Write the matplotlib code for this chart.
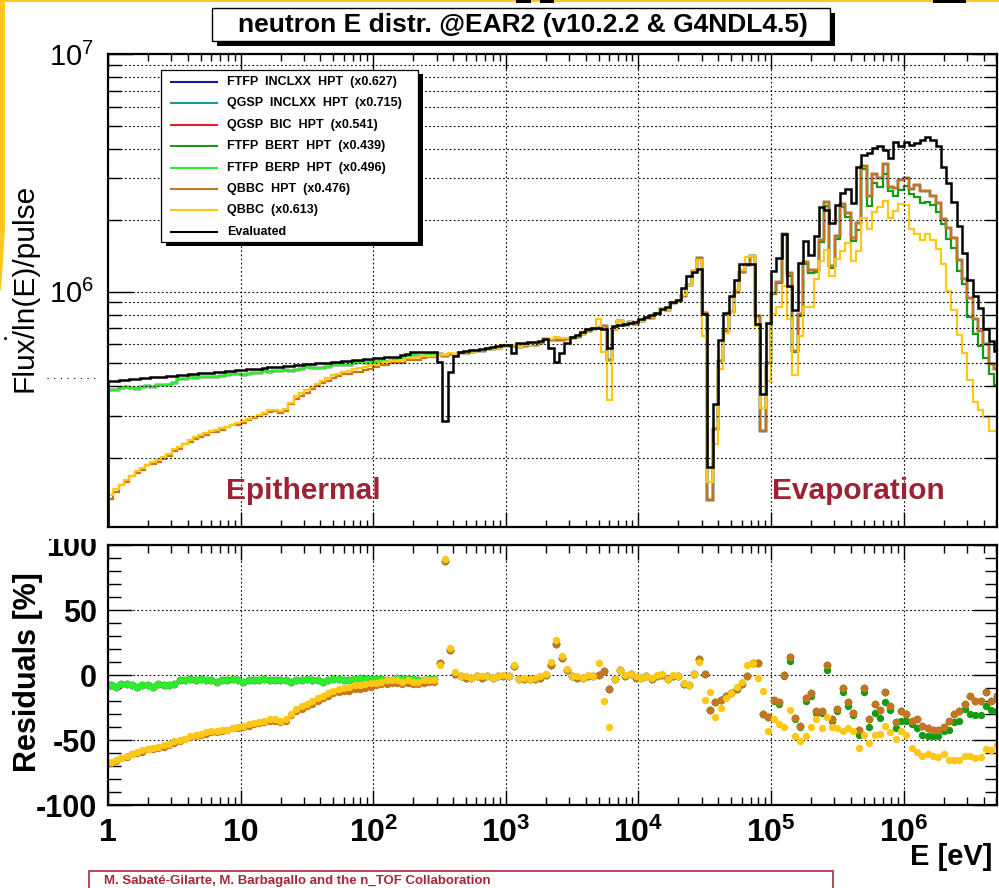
import numpy as np
import matplotlib
matplotlib.use("Agg")
import matplotlib.pyplot as plt
from matplotlib.patches import Rectangle, Polygon
from matplotlib.lines import Line2D
from matplotlib.ticker import LogLocator, FixedLocator, MultipleLocator, NullFormatter

plt.rcParams['font.family'] = ['Liberation Sans', 'DejaVu Sans']
plt.rcParams['mathtext.fontset'] = 'custom'
plt.rcParams['mathtext.rm'] = 'Liberation Sans'
plt.rcParams['mathtext.bf'] = 'Liberation Sans:bold'
plt.rcParams['mathtext.default'] = 'regular'

# 25 log bins per decade, 1 eV .. ~5 MeV
bins_per_decade = 25
edges = 10 ** (np.arange(169) / bins_per_decade)
centers = np.sqrt(edges[:-1] * edges[1:])

# evaluated flux, units of 1e5 /pulse
flux_eval = [
    4.20, 4.22, 4.24, 4.25, 4.27, 4.29, 4.31, 4.33, 4.35, 4.36,
    4.38, 4.40, 4.42, 4.44, 4.46, 4.48, 4.50, 4.52, 4.54, 4.56,
    4.58, 4.60, 4.62, 4.64, 4.66, 4.68, 4.70, 4.72, 4.74, 4.76,
    4.79, 4.81, 4.83, 4.85, 4.87, 4.89, 4.91, 4.94, 4.96, 4.98,
    5.00, 5.02, 5.05, 5.07, 5.09, 5.11, 5.14, 5.16, 5.18, 5.21,
    5.23, 5.25, 5.28, 5.30, 5.32,
    5.40, 5.48, 5.55, 5.56, 5.57, 5.57, 5.57,
    5.03, 2.85, 4.57, 5.34, 5.58, 5.62, 5.66, 5.70, 5.74, 5.78, 5.82, 5.87, 5.93,
    5.95, 5.49, 6.05, 6.08, 6.11, 6.15, 6.22, 6.29,
    5.76, 5.05, 5.53,
    6.09, 6.45, 6.59, 6.74, 6.92, 6.99, 7.00,
    6.97, 5.80,
    7.15, 7.20, 7.27, 7.34, 7.43,
    7.68, 7.80, 7.95, 8.10, 8.45, 8.60, 9.00, 9.20, 10.3, 11.6, 12.1, 12.4,
    8.05, 1.82, 3.35, 6.28, 8.14, 9.56, 11.2, 13.0, 13.0, 13.0, 7.27, 3.69, 7.39,
    12.2, 13.9, 17.5, 10.5, 8.40, 13.2, 16.3, 14.3, 17.1, 22.8, 22.1, 19.4, 23.2,
    26.0, 27.0, 23.6, 33.6, 37.6, 38.3, 40.2, 41.1, 39.5, 36.4, 42.8, 41.1, 42.8,
    41.5, 42.4, 43.5, 44.9, 43.5, 40.8, 33.6, 28.6, 23.9, 18.8, 14.5, 11.2, 9.56,
    8.54, 6.92, 6.18, 5.61,
]

# residuals (sim - eval)/eval in %, HPT physics lists
res_hpt = [
    -8, -9, -7, -7, -8, -9, -8, -8, -9, -7, -8, -8, -7,
    -4, -4, -3, -4, -3, -4, -4, -5, -4, -4, -3, -4,
    -5, -4, -4, -4, -3, -4, -4, -4, -4, -5, -4, -4, -3,
    -4, -4, -5, -4, -3, -3, -4, -4, -3, -2, -3, -3,
    -3, -3, -4, -4, -2, -3, -3, -3, -4, -4, -3, -3,
    9, 88, 19, 1,
    -1, -2, -2, -1, -2, -1, -2, -1, -1, -1,
    7,
    -3, -3, -3, -3, -2, 0,
    8, 24, 13, 4, -1, -2, -2, -1, -1, 0, 3, -11, -3, 4, -1, 1, -2,
    -2, -1, -3, -1, 0, -3, -1, -1, -7, -8, 1, 12, 1,
    -27, -21, -19, -16, -14, -11, -7, -1, 9, 9, -30, -32,
    -19, -21, 0, 14, -33, -39, -18, -14, -28, -28, 8, -34, -26,
    -10, -21, -29, -42, -10, -34, -22, -27, -13, -24, -36, -28, -30,
    -35, -34, -39, -41, -42, -42, -40, -35, -30, -28, -22, -16, -20, -20, -13, -20, -16,
]

# FTFP BERT HPT departs from the others above ~100 keV (bins 125..167)
res_bert_high = [
    -20, -22, -1, 11, -34, -40, -20, -16, -29, -29, 4, -35, -28,
    -13, -24, -31, -46, -13, -40, -29, -33, -21, -27, -41, -35, -35,
    -38, -41, -46, -47, -47, -47, -43, -42, -36, -35, -26, -30, -31, -31, -24, -27, -28,
]

# QBBC HPT below ~250 eV (bins 0..61)
res_qbbc_hpt_low = [
    -68, -66, -64, -63, -61, -60, -59, -57, -57, -56, -55, -54, -52, -51, -49, -48,
    -47, -46, -45, -44, -44, -43, -42, -41, -41, -40, -39, -38, -37, -36, -35, -35,
    -36, -35, -31, -28, -26, -24, -22, -20, -18, -16, -14, -13, -12, -12, -11, -11,
    -10, -9, -8, -7, -7, -6, -6, -7, -6, -7, -7, -6, -5, -5,
]

res_qbbc = [
    -67, -65, -64, -62, -61, -59, -58, -57, -56, -55, -54, -53, -51, -50, -49, -47,
    -46, -45, -44, -43, -43, -42, -42, -41, -40, -39, -38, -37, -36, -35, -34, -34,
    -35, -34, -30, -26, -24, -22, -20, -18, -16, -14, -12, -11, -10, -9, -8, -8,
    -7, -6, -6, -5, -4, -4, -4, -5, -4, -5, -5, -4, -4, -4,
    8, 89, 21, 2,
    -1, -1, -2, -1, -1, -1, -2, -1, 0, -1,
    8,
    -3, -2, -3, -2, -1, 1,
    10, 27, 15, 5, -1, -1, -2, 0, -1, 9, -20, -40, -3, 4, 0, 1, -1,
    -2, -1, -2, 0, 1, -3, 0, -1, -6, -8, 1, 10, -19,
    -13, -32, -25, -18, -14, -9, -5, 8, 9, -2, -12, -43,
    -34, -38, -40, -27, -47, -51, -47, -40, -34, -41, -32, -40, -41,
    -43, -41, -43, -56, -46, -52, -46, -45, -39, -44, -49, -43, -46,
    -56, -59, -62, -61, -62, -63, -61, -65, -65, -65, -62, -62, -64, -63, -57, -58, -54,
]

model_labels = [
    "FTFP  INCLXX  HPT  (x0.627)",
    "QGSP  INCLXX  HPT  (x0.715)",
    "QGSP  BIC  HPT  (x0.541)",
    "FTFP  BERT  HPT  (x0.439)",
    "FTFP  BERP  HPT  (x0.496)",
    "QBBC  HPT  (x0.476)",
    "QBBC  (x0.613)",
]
model_colors = ['#1414a0', '#1a9999', '#ee1c1c', '#149a14', '#2cee2c', '#c8731e', '#ffc814']
model_res = [
    res_hpt,
    res_hpt,
    res_hpt,
    res_hpt[:125] + res_bert_high,
    res_hpt,
    res_qbbc_hpt_low + res_hpt[62:],
    res_qbbc,
]

W, H = 999, 888
fig = plt.figure(figsize=(W / 100, H / 100), dpi=100)


def fx(x):
    return x / W


def fy(y):
    return 1 - y / H


def px_rect(x0, y0, x1, y1, **kw):
    return Rectangle((fx(x0), fy(y1)), (x1 - x0) / W, (y1 - y0) / H,
                     transform=fig.transFigure, **kw)


def e_at(xpix):
    # energy under a given pixel column of the pads
    return 10 ** ((xpix - 108) / 132.6)


ax1 = fig.add_axes([fx(108), fy(527), (997 - 108) / W, (527 - 54) / H])
ax2 = fig.add_axes([fx(108), fy(805), (997 - 108) / W, (805 - 545) / H])

dots = (0, (1.5, 2.2))
flux = np.array(flux_eval) * 1e5

# top: flux spectra
for col, res in zip(model_colors, model_res):
    sim = flux * (1 + np.array(res) / 100.0)
    ax1.stairs(sim, edges, baseline=5e4, color=col, lw=1.6)
ax1.stairs(flux, edges, baseline=5e4, color='black', lw=1.8)

ax1.set_xscale('log')
ax1.set_yscale('log')
ax1.set_xlim(1, 5.05e6)
ax1.set_ylim(1.02e5, 1e7)
ax1.xaxis.set_major_locator(LogLocator(base=10, numticks=20))
ax1.xaxis.set_minor_locator(LogLocator(base=10, subs=np.arange(2, 10), numticks=20))
ax1.xaxis.set_minor_formatter(NullFormatter())
ax1.yaxis.set_minor_locator(LogLocator(base=10, subs=np.arange(2, 10), numticks=20))
ax1.yaxis.set_minor_formatter(NullFormatter())
ax1.set_yticks([1e6, 1e7], [r'$10^{6}$', r'$10^{7}$'])
ax1.tick_params(which='both', direction='in', top=True, right=True,
                labelbottom=False, width=1, colors='black')
ax1.tick_params(axis='x', which='major', length=11)
ax1.tick_params(axis='x', which='minor', length=5)
ax1.tick_params(axis='y', which='major', length=18, labelsize=21, pad=10)
ax1.tick_params(axis='y', which='minor', length=9)
ax1.grid(which='major', axis='x', ls=dots, color='black', lw=0.8)
ax1.grid(which='both', axis='y', ls=dots, color='black', lw=0.8)
for s in ax1.spines.values():
    s.set_linewidth(1.6)

ax1.text(e_at(303), 1.45e5, "Epithermal", ha='center', va='center', fontsize=21.5,
         fontweight='bold', color='#9b2335')
ax1.text(e_at(858), 1.45e5, "Evaporation", ha='center', va='center', fontsize=21.5,
         fontweight='bold', color='#9b2335')

# bottom: residuals
for col, res in zip(model_colors, model_res):
    ax2.plot(centers, res, 'o', ms=4.3, color=col, mec=col, ls='none')

ax2.set_xscale('log')
ax2.set_xlim(1, 5.05e6)
ax2.set_ylim(-100, 100)
ax2.xaxis.set_minor_locator(LogLocator(base=10, subs=np.arange(2, 10), numticks=20))
ax2.xaxis.set_minor_formatter(NullFormatter())
ax2.set_xticks([1, 10, 1e2, 1e3, 1e4, 1e5, 1e6],
               ['1', '10', r'$10^{2}$', r'$10^{3}$', r'$10^{4}$', r'$10^{5}$', r'$10^{6}$'],
               fontweight='bold', fontsize=23)
ax2.set_yticks([-100, -50, 0, 50, 100], ['-100', '-50', '0', '50', '100'],
               fontweight='bold', fontsize=22)
ax2.yaxis.set_minor_locator(MultipleLocator(10))
ax2.tick_params(which='both', direction='in', top=True, right=True, width=1, colors='black')
ax2.tick_params(axis='x', which='major', length=11, pad=9)
ax2.tick_params(axis='x', which='minor', length=6)
ax2.tick_params(axis='y', which='major', length=17, pad=8)
ax2.tick_params(axis='y', which='minor', length=9)
ax2.grid(which='major', ls=dots, color='black', lw=0.8)
for s in ax2.spines.values():
    s.set_linewidth(1.6)

# axis titles
fig.text(fx(25), fy(288), "Flux/ln(E)/pulse", rotation=90, ha='center', va='center',
         fontsize=21.5)
fig.text(fx(28), fy(672), "Residuals [%]", rotation=90, ha='center', va='center',
         fontsize=22, fontweight='bold')
fig.text(fx(951), fy(857), "E [eV]", ha='center', va='center', fontsize=21,
         fontweight='bold')

# hide top of the "100" label under the upper pad
fig.patches.append(px_rect(0, 527, 106, 539, facecolor='white', edgecolor='none', zorder=5))

# title box with shadow
fig.patches.append(px_rect(217, 13, 835, 46, facecolor='black', edgecolor='none', zorder=6))
fig.patches.append(px_rect(212, 8, 830, 41, facecolor='white', edgecolor='black', lw=1.0, zorder=7))
fig.text(fx(523), fy(25), "neutron E distr. @EAR2 (v10.2.2 & G4NDL4.5)", ha='center',
         va='center', fontsize=19, fontweight='bold', zorder=8)

# legend box with shadow
fig.patches.append(px_rect(166, 74, 423, 246, facecolor='black', edgecolor='none', zorder=6))
fig.patches.append(px_rect(161, 70, 418, 242, facecolor='white', edgecolor='black', lw=0.9, zorder=7))
entries = list(zip(model_labels, model_colors)) + [("Evaluated", 'black')]
for k, (lab, col) in enumerate(entries):
    yy = 82 + 21.4 * k
    fig.lines.append(Line2D([fx(171), fx(217)], [fy(yy), fy(yy)], color=col, lw=1.5,
                            transform=fig.transFigure, zorder=8))
    fig.text(fx(227), fy(yy), lab, ha='left', va='center', fontsize=9,
             fontweight='bold', zorder=8)

# stray marks left of the upper pad
fig.lines.append(Line2D([fx(47), fx(100)], [fy(378), fy(378)], color='black', lw=0.8,
                        ls=(0, (1, 5)), transform=fig.transFigure))
fig.lines.append(Line2D([fx(5)], [fy(338)], color='black', marker='o', ms=1.2, ls='none',
                        transform=fig.transFigure))

# slide frame remnants
gold = '#ffc81e'
fig.patches.append(px_rect(0, 0, W, 2, facecolor=gold, edgecolor='none', zorder=9))
fig.patches.append(Polygon([(fx(0), fy(0)), (fx(5), fy(0)), (fx(5), fy(228)),
                            (fx(3), fy(262)), (fx(1), fy(288)), (fx(0), fy(292))],
                           closed=True, transform=fig.transFigure, facecolor=gold,
                           edgecolor='none', zorder=9))
for x0, x1 in [(516, 531), (540, 554), (933, 966)]:
    fig.patches.append(px_rect(x0, 0, x1, 3, facecolor='black', edgecolor='none', zorder=10))

# author box at the foot
fig.patches.append(px_rect(89, 871, 833, 900, facecolor='white', edgecolor='#b34a58',
                           lw=1.4, zorder=6))
fig.text(fx(104), fy(884), "M. Sabaté-Gilarte, M. Barbagallo and the n_TOF Collaboration",
         ha='left', va='baseline', fontsize=9.5, fontweight='bold', color='#a3283a', zorder=7)

fig.savefig("out.png", dpi=100)
